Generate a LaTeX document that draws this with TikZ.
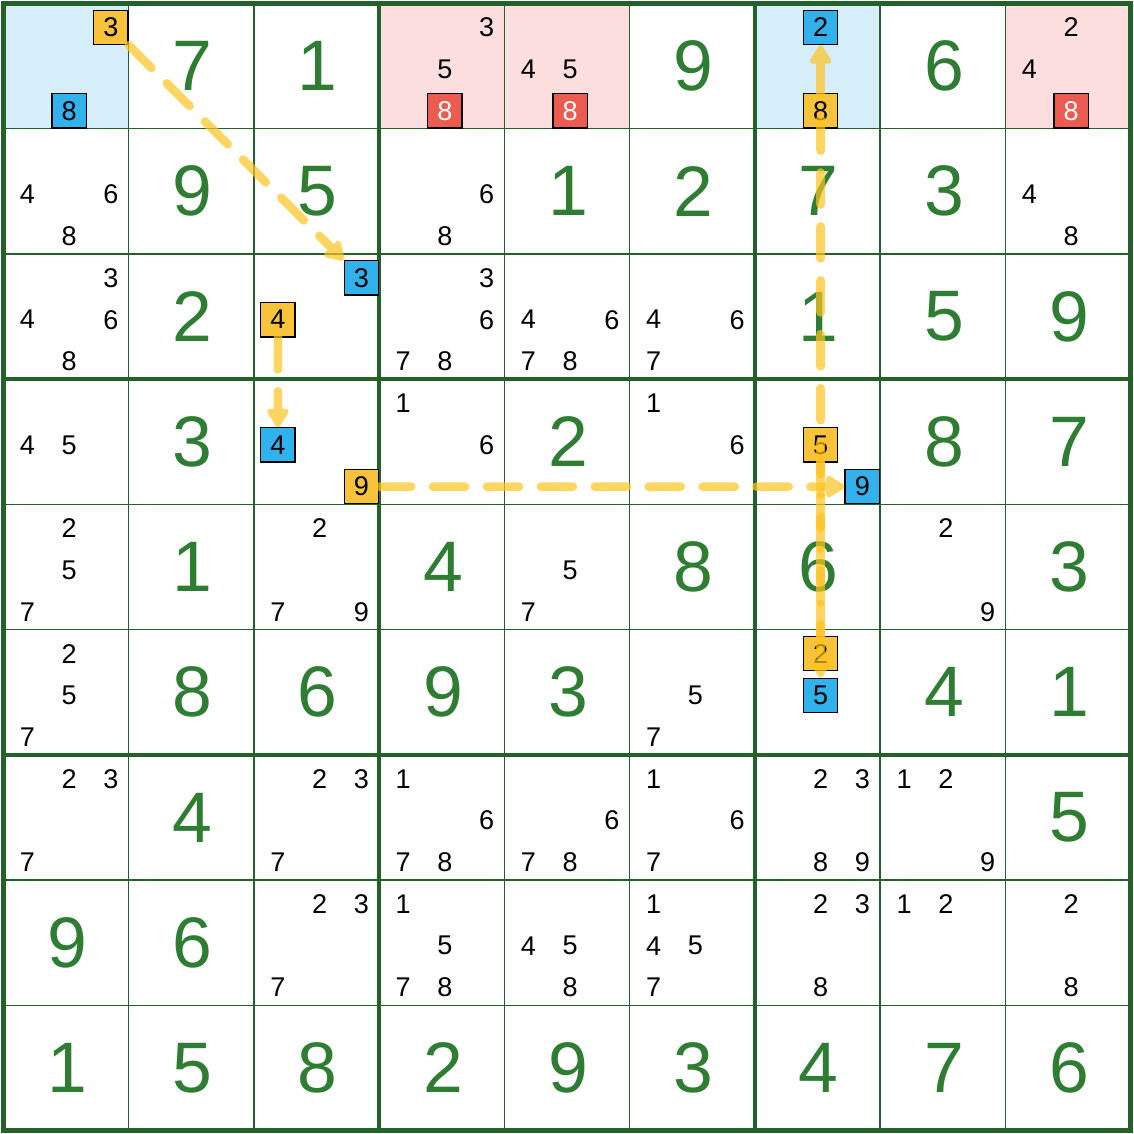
\documentclass[tikz,border=0pt]{standalone}
\usepackage{fontspec}
\setmainfont{Liberation Sans}
\usepackage{xcolor}
\usepackage{tikz}
\usetikzlibrary{arrows.meta}

\definecolor{gridgreen}{HTML}{23602A}
\definecolor{givengreen}{HTML}{2E7D32}
\definecolor{onyellow}{HTML}{F8C33A}
\definecolor{offblue}{HTML}{31B2EC}
\definecolor{elimred}{HTML}{EC5B50}
\definecolor{cellblue}{HTML}{D6EEFA}
\definecolor{cellpink}{HTML}{FCDEDE}
\definecolor{linkyellow}{HTML}{FFC31F}

\newcommand{\cand}[4][cand]{%
  \pgfmathsetmacro\cx{#3-0.475+(mod(#4-1,3)-1)/3}%
  \pgfmathsetmacro\cy{0.475-#2-(floor((#4-1)/3)-1)/3}%
  \node[#1] (c#2#3#4) at (\cx,\cy) {#4};}
\newcommand{\chainlink}[2]{%
  \begin{scope}[transparency group,opacity=0.7]
    \draw[linkarrow] (#1) -- (#2);
  \end{scope}}

\begin{document}
\begin{tikzpicture}[x=2cm,y=2cm,
  given/.style={text=givengreen,font=\fontsize{32.5}{32.5}\selectfont},
  cand/.style={font=\fontsize{12.3}{12.3}\selectfont,inner sep=0pt},
  markbox/.style={cand,draw=black,line width=0.6pt,minimum size=15.6pt},
  onbox/.style={markbox,fill=onyellow},
  offbox/.style={markbox,fill=offblue},
  elimbox/.style={markbox,fill=elimred,text=white},
  cellline/.style={gridgreen,line width=0.7pt},
  boxline/.style={gridgreen,line width=2.1pt},
  linkarrow/.style={linkyellow,line width=4pt,line cap=round,
    dash pattern=on 14.5pt off 10pt,
    -{Triangle[width=11pt,length=9.5pt,round]}}]
\useasboundingbox (-0.028,-9.028) rectangle (9.028,0.028);

% highlighted cells
\fill[cellblue] (0,0) rectangle (1,-1);
\fill[cellblue] (6,0) rectangle (7,-1);
\fill[cellpink] (3,0) rectangle (5,-1);
\fill[cellpink] (8,0) rectangle (9,-1);

% grid
\foreach \i in {1,2,4,5,7,8} {
  \draw[cellline] (\i,0) -- (\i,-9);
  \draw[cellline] (0,-\i) -- (9,-\i);
}
\foreach \i in {3,6} {
  \draw[boxline] (\i,0) -- (\i,-9);
  \draw[boxline] (0,-\i) -- (9,-\i);
}
\draw[boxline,line width=2.4pt] (0,0) rectangle (9,-9);

% givens
\foreach \r/\c/\d in {1/2/7, 1/3/1, 1/6/9, 1/8/6,
    2/2/9, 2/3/5, 2/5/1, 2/6/2, 2/7/7, 2/8/3,
    3/2/2, 3/7/1, 3/8/5, 3/9/9,
    4/2/3, 4/5/2, 4/8/8, 4/9/7,
    5/2/1, 5/4/4, 5/6/8, 5/7/6, 5/9/3,
    6/2/8, 6/3/6, 6/4/9, 6/5/3, 6/8/4, 6/9/1,
    7/2/4, 7/9/5,
    8/1/9, 8/2/6,
    9/1/1, 9/2/5, 9/3/8, 9/4/2, 9/5/9, 9/6/3, 9/7/4, 9/8/7, 9/9/6}
  \node[given] (g\r\c) at (\c-0.49,0.5-\r) {\d};

% candidates
\foreach \r/\c/\ds in {1/4/{3,5}, 1/5/{4,5}, 1/9/{2,4},
    2/1/{4,6,8}, 2/4/{6,8}, 2/9/{4,8},
    3/1/{3,4,6,8}, 3/4/{3,6,7,8}, 3/5/{4,6,7,8}, 3/6/{4,6,7},
    4/1/{4,5}, 4/4/{1,6}, 4/6/{1,6},
    5/1/{2,5,7}, 5/3/{2,7,9}, 5/5/{5,7}, 5/8/{2,9},
    6/1/{2,5,7}, 6/6/{5,7},
    7/1/{2,3,7}, 7/3/{2,3,7}, 7/4/{1,6,7,8}, 7/5/{6,7,8},
    7/6/{1,6,7}, 7/7/{2,3,8,9}, 7/8/{1,2,9},
    8/3/{2,3,7}, 8/4/{1,5,7,8}, 8/5/{4,5,8}, 8/6/{1,4,5,7},
    8/7/{2,3,8}, 8/8/{1,2}, 8/9/{2,8}}
  {\foreach \d in \ds {\cand{\r}{\c}{\d}}}

% marked candidates
\cand[onbox]{1}{1}{3}
\cand[offbox]{1}{1}{8}
\cand[elimbox]{1}{4}{8}
\cand[elimbox]{1}{5}{8}
\cand[offbox]{1}{7}{2}
\cand[onbox]{1}{7}{8}
\cand[elimbox]{1}{9}{8}
\cand[offbox]{3}{3}{3}
\cand[onbox]{3}{3}{4}
\cand[offbox]{4}{3}{4}
\cand[onbox]{4}{3}{9}
\cand[onbox]{4}{7}{5}
\cand[offbox]{4}{7}{9}
\cand[onbox]{6}{7}{2}
\cand[offbox]{6}{7}{5}

% chain
\chainlink{c113}{c333}
\chainlink{c334}{c434}
\chainlink{c439}{c479}
\chainlink{c475}{c675}
\chainlink{c672}{c172}
\end{tikzpicture}
\end{document}
